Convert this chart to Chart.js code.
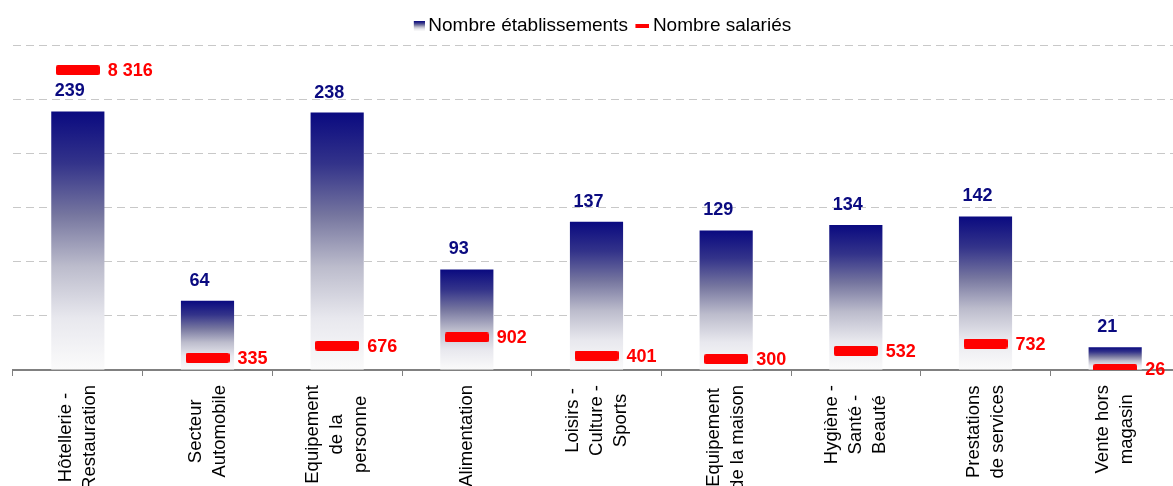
<!DOCTYPE html>
<html>
<head>
<meta charset="utf-8">
<script src="https://cdn.jsdelivr.net/npm/chart.js@4"></script>
<style>
  html, body { margin: 0; padding: 0; background: #fff; overflow: hidden; }
  #chart { display: block; }
</style>
</head>
<body>
<canvas id="chart" width="1186" height="486"></canvas>
<script>
'use strict';

let categories = [
  ['Hôtellerie -', 'Restauration'],
  ['Secteur', 'Automobile'],
  ['Equipement', 'de la', 'personne'],
  ['Alimentation'],
  ['Loisirs -', 'Culture -', 'Sports'],
  ['Equipement', 'de la maison'],
  ['Hygiène -', 'Santé -', 'Beauté'],
  ['Prestations', 'de services'],
  ['Vente hors', 'magasin']
];
let etablissements = [239, 64, 238, 93, 137, 129, 134, 142, 21];
let salaries = [8316, 335, 676, 902, 401, 300, 532, 732, 26];
let seriesNames = ['Nombre établissements', 'Nombre salariés'];

let navy = '#0a0a80';
let red = '#ff0000';
// navy fading to a greyish white, like the original fill
let fadeStops = [[0, navy], [0.2, '#33338a'], [0.4, '#76769f'], [0.6, '#bcbccc'], [0.8, '#e8e8ee'], [1, '#fbfbfb']];

function formatNumber(v) {
  return String(v).replace(/\B(?=(\d{3})+(?!\d))/g, ' ');
}

function fade(g, top, bottom) {
  let grad = g.createLinearGradient(0, top, 0, bottom);
  fadeStops.forEach(function (s) {
    grad.addColorStop(s[0], s[1]);
  });
  return grad;
}

// red marker used for the "salariés" points
function makeMarker() {
  let c = document.createElement('canvas');
  c.width = 44;
  c.height = 10;
  let g = c.getContext('2d');
  g.fillStyle = red;
  g.beginPath();
  g.roundRect(0, 0, 44, 10, 2);
  g.fill();
  return c;
}

// legend icons, drawn off-centre so they sit close to the text
function makeBarIcon() {
  let c = document.createElement('canvas');
  c.width = 24;
  c.height = 12;
  let g = c.getContext('2d');
  g.fillStyle = fade(g, 1, 11);
  g.fillRect(13, 1, 11, 10);
  return c;
}

function makeLineIcon() {
  let c = document.createElement('canvas');
  c.width = 24;
  c.height = 4;
  let g = c.getContext('2d');
  g.fillStyle = red;
  g.fillRect(10, 0, 14, 4);
  return c;
}

let marker = makeMarker();
let barIcon = makeBarIcon();
let lineIcon = makeLineIcon();

function barGradient(context) {
  let chart = context.chart;
  let y = chart.scales.y;
  if (!y || context.type !== 'data') {
    return navy;
  }
  let top = y.getPixelForValue(context.raw);
  let bottom = y.getPixelForValue(0);
  if (!isFinite(top) || !isFinite(bottom) || top === bottom) {
    return navy;
  }
  return fade(chart.ctx, top, bottom);
}

let valueLabels = {
  id: 'valueLabels',
  afterDatasetsDraw(chart) {
    let ctx = chart.ctx;
    ctx.save();
    ctx.font = 'bold 18px Arial, "Liberation Sans", sans-serif';

    ctx.fillStyle = navy;
    ctx.textAlign = 'center';
    ctx.textBaseline = 'alphabetic';
    chart.getDatasetMeta(0).data.forEach(function (bar, i) {
      ctx.fillText(formatNumber(etablissements[i]), bar.x - 8, bar.y - 15);
    });

    ctx.fillStyle = red;
    ctx.textAlign = 'left';
    ctx.textBaseline = 'middle';
    chart.getDatasetMeta(1).data.forEach(function (pt, i) {
      ctx.fillText(formatNumber(salaries[i]), pt.x + 30, pt.y + 1);
    });
    ctx.restore();
  }
};

// category labels: rotated, lines centred on each other
let categoryLabels = {
  id: 'categoryLabels',
  afterDraw(chart) {
    let ctx = chart.ctx;
    let xScale = chart.scales.x;
    let axisY = chart.chartArea.bottom;
    let lineHeight = 24;
    ctx.save();
    ctx.font = '18.5px Arial, "Liberation Sans", sans-serif';
    ctx.fillStyle = '#000000';
    ctx.textAlign = 'center';
    ctx.textBaseline = 'middle';
    categories.forEach(function (lines, i) {
      let maxW = 0;
      lines.forEach(function (l) {
        maxW = Math.max(maxW, ctx.measureText(l).width);
      });
      let x = xScale.getPixelForValue(i);
      ctx.save();
      ctx.translate(x, axisY + 15 + maxW / 2);
      ctx.rotate(-Math.PI / 2);
      lines.forEach(function (l, j) {
        ctx.fillText(l, 0, (j - (lines.length - 1) / 2) * lineHeight);
      });
      ctx.restore();
    });
    ctx.restore();
  }
};

let ctx = document.getElementById('chart').getContext('2d');
let myChart = new Chart(ctx, {
  type: 'bar',
  data: {
    labels: categories.map(function (c) { return c.join(' '); }),
    datasets: [{
      label: seriesNames[0],
      data: etablissements,
      yAxisID: 'y',
      backgroundColor: barGradient,
      borderWidth: 0,
      barPercentage: 0.41,
      categoryPercentage: 1,
      order: 2
    }, {
      type: 'line',
      label: seriesNames[1],
      data: salaries,
      yAxisID: 'y2',
      showLine: false,
      pointStyle: marker,
      pointRadius: 5,
      pointHoverRadius: 5,
      backgroundColor: red,
      borderColor: red,
      order: 1
    }]
  },
  options: {
    responsive: false,
    animation: false,
    devicePixelRatio: 1,
    layout: {
      padding: { left: 13, right: 1, top: 13, bottom: 110 }
    },
    plugins: {
      title: { display: false },
      tooltip: { enabled: false },
      legend: {
        display: true,
        position: 'top',
        labels: {
          usePointStyle: true,
          boxWidth: 12,
          boxHeight: 12,
          padding: 3.5,
          color: '#000000',
          font: { family: 'Arial, "Liberation Sans", sans-serif', size: 19 },
          generateLabels: function () {
            return [
              { text: seriesNames[0], pointStyle: barIcon, fillStyle: 'transparent', strokeStyle: 'transparent', lineWidth: 0, hidden: false, datasetIndex: 0 },
              { text: seriesNames[1], pointStyle: lineIcon, fillStyle: 'transparent', strokeStyle: 'transparent', lineWidth: 0, hidden: false, datasetIndex: 1 }
            ];
          }
        }
      }
    },
    scales: {
      x: {
        display: true,
        offset: true,
        ticks: { display: false },
        grid: {
          display: true,
          offset: true,
          drawOnChartArea: false,
          drawTicks: true,
          tickLength: 6,
          color: '#808080',
          lineWidth: 1
        },
        border: { display: true, color: '#808080', width: 2 }
      },
      y: {
        display: true,
        position: 'left',
        min: 0,
        max: 300,
        ticks: { display: false, stepSize: 50 },
        grid: {
          drawTicks: false,
          color: function (c) {
            return c.tick && c.tick.value === 0 ? 'rgba(0,0,0,0)' : '#c8c8c8';
          },
          lineWidth: 1
        },
        border: { display: false, dash: [8, 5] }
      },
      y2: {
        display: false,
        position: 'right',
        min: 0,
        max: 9000,
        ticks: { stepSize: 1500 },
        grid: { drawOnChartArea: false }
      }
    }
  },
  plugins: [valueLabels, categoryLabels]
});
</script>
</body>
</html>
